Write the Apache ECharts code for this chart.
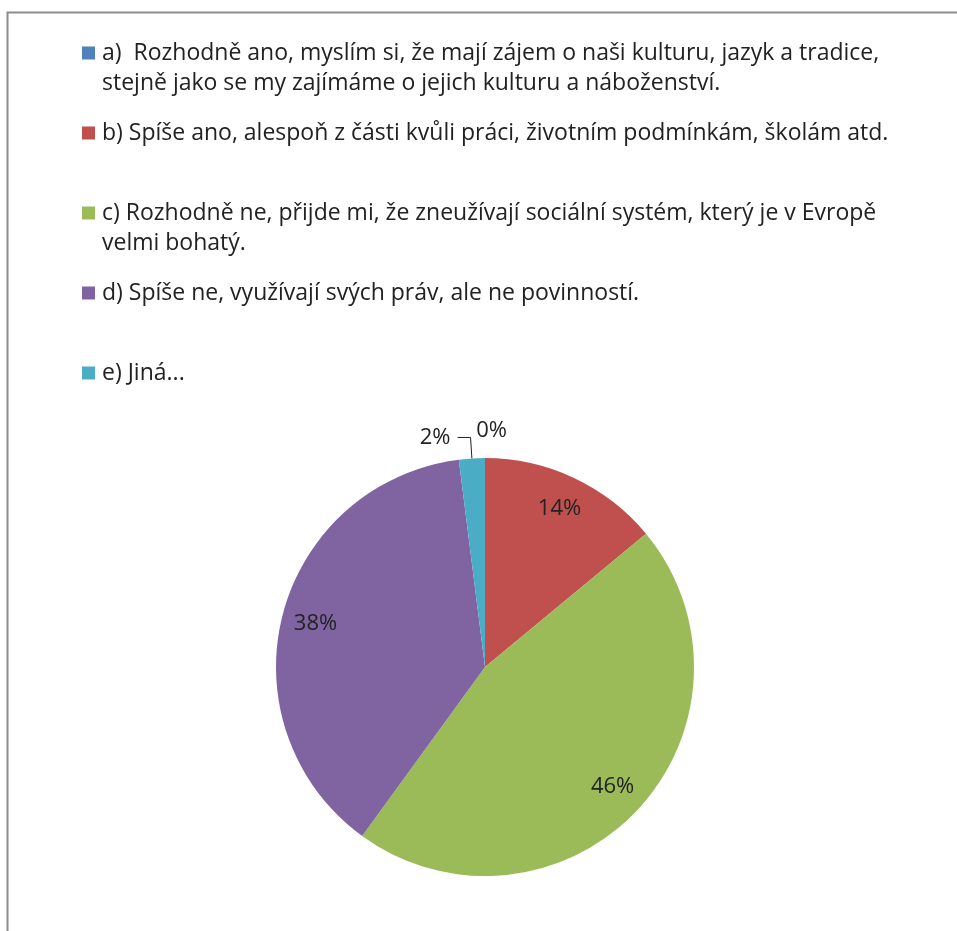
<!DOCTYPE html>
<html>
<head>
<meta charset="utf-8">
<script src="https://cdn.jsdelivr.net/npm/echarts@6/dist/echarts.min.js"></script>
<style>
html,body{margin:0;padding:0;background:#fff;}
#chart{width:957px;height:931px;}
</style>
</head>
<body>
<div id="chart"></div>
<script>
// categories (legend texts, line-wrapped as in the reference)
const categories = [
  'a)  Rozhodně ano, myslím si, že mají zájem o naši kulturu, jazyk a tradice,\nstejně jako se my zajímáme o jejich kulturu a náboženství.',
  'b) Spíše ano, alespoň z části kvůli práci, životním podmínkám, školám atd.',
  'c) Rozhodně ne, přijde mi, že zneužívají sociální systém, který je v Evropě\nvelmi bohatý.',
  'd) Spíše ne, využívají svých práv, ale ne povinností.',
  'e) Jiná...'
];
// percentage shares
const values = [0, 14, 46, 38, 2];
const colors = ['#4F81BD', '#C0504D', '#9BBB59', '#8064A2', '#4BACC6'];
const markerKeys = ['ma', 'mb', 'mc', 'md', 'me'];

const FONT = '"Open Sans"';
const TEXT_COLOR = '#222222';

const rich = {
  t: { fontFamily: FONT, fontSize: 23, color: TEXT_COLOR, lineHeight: 30, verticalAlign: 'middle' },
  g: { width: 7, height: 10 },
  ind: { width: 20, height: 10 }
};
markerKeys.forEach((k, i) => {
  rich[k] = { width: 13, height: 13, backgroundColor: colors[i], verticalAlign: 'middle' };
});

const pieData = categories.map((name, i) => ({ name: name, value: values[i] }));

const chart = echarts.init(document.getElementById('chart'), null, { renderer: 'canvas' });
chart.setOption({
  animation: false,
  backgroundColor: '#ffffff',
  color: colors,
  graphic: [{
    type: 'rect',
    left: 5, top: 10,
    shape: { width: 1200, height: 1200 },
    style: { fill: 'none', stroke: '#8c8c8c', lineWidth: 2 },
    silent: true, z: 100
  }],
  legend: {
    orient: 'vertical',
    left: 77,
    top: 38,
    padding: 0,
    itemGap: 20,
    icon: 'none',
    itemWidth: 0,
    itemHeight: 0,
    selectedMode: false,
    data: categories,
    formatter: function (name) {
      const i = categories.indexOf(name);
      const lines = name.split('\n');
      let s = '{' + markerKeys[i] + '|}{g|}{t|' + lines[0] + '}\n';
      s += lines.length > 1 ? '{ind|}{t|' + lines[1] + '}' : '{t| }';
      return s;
    },
    textStyle: { fontFamily: FONT, fontSize: 23, color: TEXT_COLOR, lineHeight: 30, rich: rich }
  },
  series: [
    {
      type: 'pie',
      center: [485, 667],
      radius: [0, 209],
      startAngle: 90,
      clockwise: true,
      avoidLabelOverlap: false,
      itemStyle: { borderWidth: 0 },
      label: { show: false, fontFamily: FONT, fontSize: 22, color: TEXT_COLOR, formatter: '{c}%' },
      labelLine: { show: false },
      emphasis: { disabled: true },
      data: pieData.map((d, i) => {
        if (i === 0) {
          return Object.assign({}, d, {
            label: { show: true, position: 'outside', distanceToLabelLine: 0 },
            labelLine: { show: false, length: 27, length2: -22 }
          });
        }
        if (i === 4) {
          return Object.assign({}, d, {
            label: { show: true, position: 'outside', distanceToLabelLine: 7, padding: [0, 0, 12, 0] },
            labelLine: { show: true, length: 21, length2: 13, lineStyle: { color: '#222222', width: 1 } }
          });
        }
        return d;
      })
    },
    {
      type: 'pie',
      center: [485, 667],
      radius: [135, 209],
      startAngle: 90,
      clockwise: true,
      silent: true,
      avoidLabelOverlap: false,
      itemStyle: { color: 'rgba(0,0,0,0)', borderWidth: 0 },
      label: { show: true, position: 'inside', fontFamily: FONT, fontSize: 22, color: TEXT_COLOR, formatter: '{c}%' },
      labelLine: { show: false },
      emphasis: { disabled: true },
      data: pieData.map((d, i) => (i === 1 || i === 2 || i === 3) ? d : Object.assign({}, d, { label: { show: false } }))
    }
  ]
});
</script>
</body>
</html>
